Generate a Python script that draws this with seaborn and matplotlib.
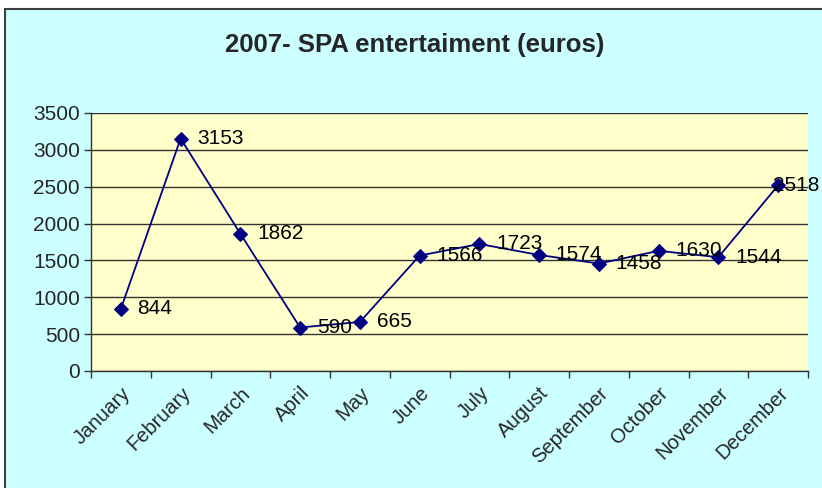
import matplotlib
matplotlib.use("Agg")
import matplotlib.pyplot as plt
from matplotlib.patches import Rectangle
import seaborn as sns
import pandas as pd

months = ["January", "February", "March", "April", "May", "June", "July",
          "August", "September", "October", "November", "December"]
values = [844, 3153, 1862, 590, 665, 1566, 1723, 1574, 1458, 1630, 1544, 2518]
y_ticks = [0, 500, 1000, 1500, 2000, 2500, 3000, 3500]
title = "2007- SPA entertaiment (euros)"

sns.set_style("white")
plt.rcParams['font.family'] = ['Liberation Sans', 'DejaVu Sans']

df = pd.DataFrame({"month": months, "value": values})
df["pos"] = range(len(months))

W, H = 822, 488
fig = plt.figure(figsize=(W / 100, H / 100), dpi=100)
fig.patch.set_facecolor("white")
fig.add_artist(Rectangle((5 / W, -0.05), 1.1, 1 - 9 / H + 0.05,
                         transform=fig.transFigure, facecolor="#CCFFFF",
                         edgecolor="#404040", lw=1.5, zorder=0))

ax = fig.add_axes([91 / W, (H - 371) / H, (808 - 91) / W, (371 - 113) / H])
ax.set_facecolor("#FFFFCC")

sns.lineplot(data=df, x="pos", y="value", ax=ax, color="#000080", lw=1.3,
             marker="D", markersize=7, markeredgecolor="#000080",
             markerfacecolor="#000080", zorder=3)

ax.set_xlim(-0.5, len(months) - 0.5)
ax.set_ylim(0, 3500)
ax.set_yticks(y_ticks)
ax.set_yticklabels([str(v) for v in y_ticks], fontsize=15)
ax.yaxis.grid(True, color="#333333", lw=1)
ax.set_axisbelow(True)

ax.set_xticks(range(len(months)))
ax.set_xticklabels(months, rotation=45, ha="right", rotation_mode="anchor",
                   fontsize=14.5)
ax.set_xticks([i - 0.5 for i in range(len(months) + 1)], minor=True)
ax.tick_params(axis="x", which="major", length=0, pad=9)
ax.tick_params(axis="x", which="minor", length=5, width=1, color="#333333",
               bottom=True)
ax.tick_params(axis="y", length=5, width=1, color="#333333", left=True, pad=3)

for s in ["top", "right"]:
    ax.spines[s].set_visible(False)
for s in ["left", "bottom"]:
    ax.spines[s].set_color("#333333")
    ax.spines[s].set_linewidth(1)

ax.set_xlabel("")
ax.set_ylabel("")

for i, v in enumerate(values):
    off = 12 if i < len(values) - 1 else -4
    ax.annotate(str(v), (i, v), xytext=(off, 0), textcoords="offset points",
                ha="left", va="center", fontsize=15, color="black",
                zorder=4, annotation_clip=False)

fig.text(0.505, 1 - 45 / H, title, ha="center", va="center",
         fontsize=18.5, fontweight="bold")

fig.savefig("out.png", dpi=100)
